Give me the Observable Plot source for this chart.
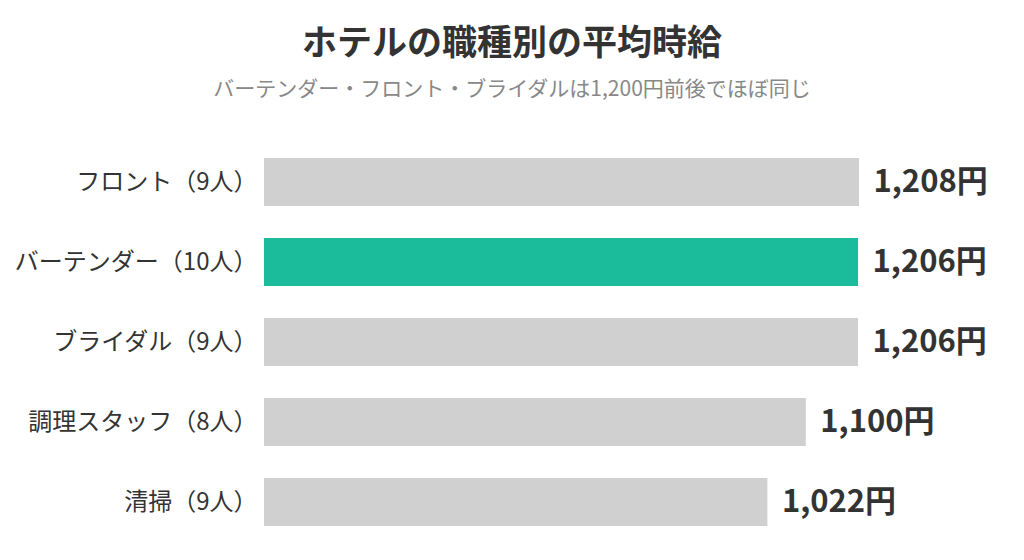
<!DOCTYPE html>
<html><head><meta charset="utf-8">
<script src="https://cdn.jsdelivr.net/npm/d3@7"></script>
<script src="https://cdn.jsdelivr.net/npm/@observablehq/plot@0.6"></script>
<style>
body{margin:0;background:#fff;font-family:"Noto Sans CJK JP",sans-serif;}
#wrap{position:relative;width:1024px;height:560px;overflow:hidden;}
#title{position:absolute;left:0;width:1024px;top:18px;line-height:44px;text-align:center;font-size:35px;font-weight:bold;color:#333;}
#subtitle{position:absolute;left:0;width:1024px;top:73px;line-height:28px;text-align:center;font-size:21px;color:#888;}
#chart{position:absolute;left:0;top:120px;}
</style></head>
<body>
<div id="wrap">
<div id="title">ホテルの職種別の平均時給</div>
<div id="subtitle">バーテンダー・フロント・ブライダルは1,200円前後でほぼ同じ</div>
<div id="chart"></div>
</div>
<script>
const jobs = ["フロント", "バーテンダー", "ブライダル", "調理スタッフ", "清掃"];
const counts = [9, 10, 9, 8, 9];
const wages = [1208, 1206, 1206, 1100, 1022];
const highlight = "バーテンダー";

const data = jobs.map((j, i) => ({job: j, label: `${j}（${counts[i]}人）`, wage: wages[i]}));
const fmt = d3.format(",");

const chart = Plot.plot({
  width: 1024,
  height: 440,
  marginLeft: 264,
  marginRight: 165,
  marginTop: 6,
  marginBottom: 2,
  style: {fontSize: "24px", fontFamily: '"Noto Sans CJK JP", sans-serif', color: "#333", background: "#fff"},
  x: {domain: [0, 1208], axis: null},
  y: {domain: data.map(d => d.label), padding: 0.4, label: null, tickSize: 0, tickPadding: 7},
  marks: [
    Plot.barX(data, {x: "wage", y: "label", fill: d => d.job === highlight ? "#1abc9c" : "#d0d0d0"}),
    Plot.text(data, {x: "wage", y: "label", text: d => fmt(d.wage) + "円", textAnchor: "start", dx: 14, fontSize: 31, fontWeight: "bold", fill: "#333"})
  ]
});
document.getElementById("chart").appendChild(chart);
</script>
</body></html>
